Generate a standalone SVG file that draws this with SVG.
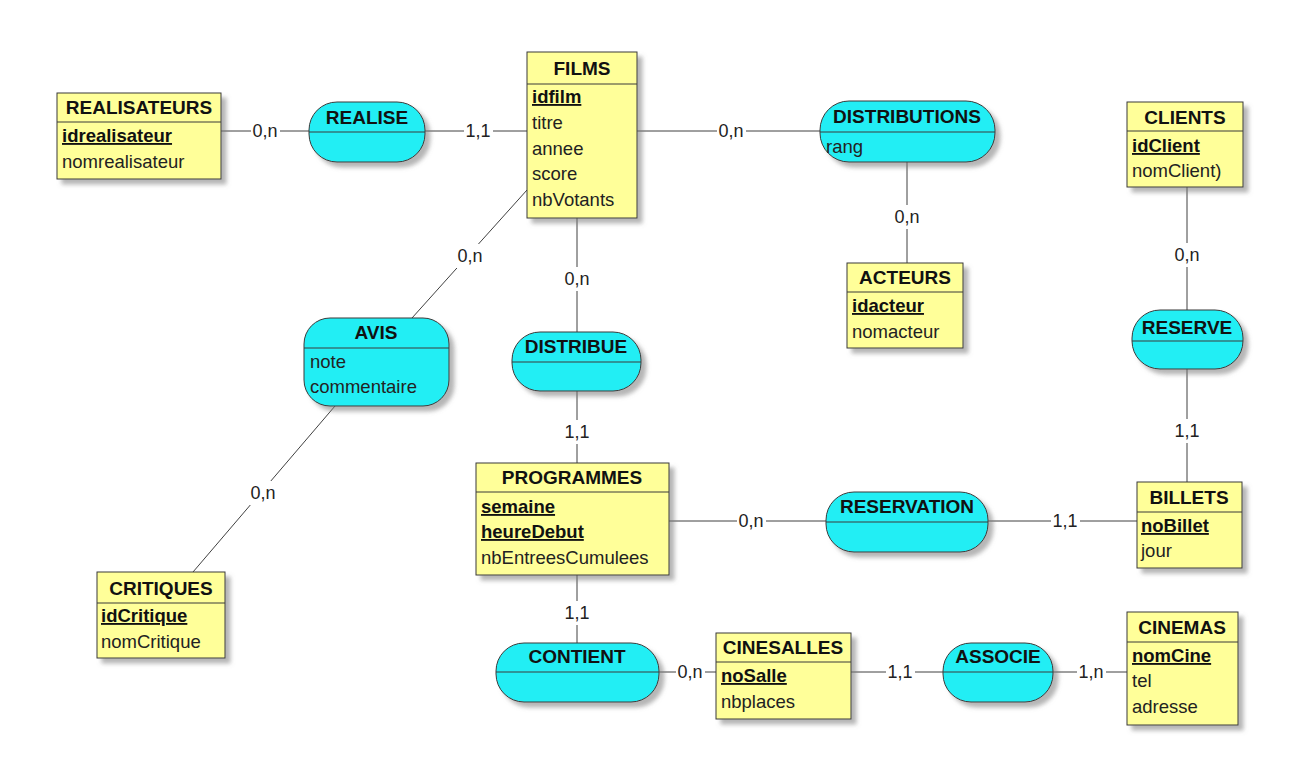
<svg xmlns="http://www.w3.org/2000/svg" width="1304" height="778" viewBox="0 0 1304 778">
<defs>
<filter id="sh" x="-10%" y="-10%" width="130%" height="130%">
<feDropShadow dx="5" dy="5" stdDeviation="2" flood-color="#7a7a7a" flood-opacity="0.55"/>
</filter>
<style>
.ent{fill:#FFFF99;stroke:#3a3a3a;stroke-width:1;filter:url(#sh)}
.asc{fill:#22EEF4;stroke:#3a3a3a;stroke-width:1;filter:url(#sh)}
.div{stroke:#3a3a3a;stroke-width:1}
.t{font-family:"Liberation Sans",Arial,sans-serif;font-size:19px;font-weight:bold;fill:#111;text-anchor:middle}
.a{font-family:"Liberation Sans",Arial,sans-serif;font-size:18.5px;fill:#222}
.k{font-weight:bold;text-decoration:underline;fill:#111}
.ln{stroke:#404040;stroke-width:1;fill:none}
.lb{fill:#fff}
.c{font-family:"Liberation Sans",Arial,sans-serif;font-size:18px;fill:#222;text-anchor:middle}
</style>
</defs>
<rect width="1304" height="778" fill="#fff"/>

<g id="connectors">
<line class="ln" x1="221" y1="131" x2="309" y2="131"/>
<line class="ln" x1="425" y1="131" x2="527" y2="131"/>
<line class="ln" x1="637" y1="131" x2="820" y2="131"/>
<line class="ln" x1="907" y1="162" x2="907" y2="263"/>
<line class="ln" x1="1187" y1="187" x2="1187" y2="310"/>
<line class="ln" x1="1187" y1="369" x2="1187" y2="482"/>
<line class="ln" x1="577" y1="218" x2="577" y2="332"/>
<line class="ln" x1="577" y1="391" x2="577" y2="463"/>
<line class="ln" x1="669" y1="521" x2="826" y2="521"/>
<line class="ln" x1="988" y1="521" x2="1137" y2="521"/>
<line class="ln" x1="577" y1="575" x2="577" y2="643"/>
<line class="ln" x1="659" y1="672" x2="716" y2="672"/>
<line class="ln" x1="851" y1="672" x2="943" y2="672"/>
<line class="ln" x1="1053" y1="672" x2="1127" y2="672"/>
<line class="ln" x1="527" y1="190" x2="412" y2="318"/>
<line class="ln" x1="335" y1="406" x2="193" y2="572"/>
<g>
<rect class="lb" x="251" y="121" width="29" height="20"/><text class="c" x="265" y="137">0,n</text>
<rect class="lb" x="464" y="121" width="29" height="20"/><text class="c" x="478" y="137">1,1</text>
<rect class="lb" x="717" y="121" width="29" height="20"/><text class="c" x="731" y="137">0,n</text>
<rect class="lb" x="893" y="205" width="29" height="24"/><text class="c" x="907" y="223">0,n</text>
<rect class="lb" x="1173" y="243" width="29" height="24"/><text class="c" x="1187" y="261">0,n</text>
<rect class="lb" x="1173" y="419" width="29" height="24"/><text class="c" x="1187" y="437">1,1</text>
<rect class="lb" x="563" y="267" width="29" height="24"/><text class="c" x="577" y="285">0,n</text>
<rect class="lb" x="563" y="420" width="29" height="24"/><text class="c" x="577" y="438">1,1</text>
<rect class="lb" x="737" y="511" width="29" height="20"/><text class="c" x="751" y="527">0,n</text>
<rect class="lb" x="1051" y="511" width="29" height="20"/><text class="c" x="1065" y="527">1,1</text>
<rect class="lb" x="563" y="601" width="29" height="24"/><text class="c" x="577" y="619">1,1</text>
<rect class="lb" x="676" y="662" width="29" height="20"/><text class="c" x="690" y="678">0,n</text>
<rect class="lb" x="886" y="662" width="29" height="20"/><text class="c" x="900" y="678">1,1</text>
<rect class="lb" x="1077" y="662" width="29" height="20"/><text class="c" x="1091" y="678">1,n</text>
<rect class="lb" x="456" y="244" width="29" height="24"/><text class="c" x="470" y="262">0,n</text>
<rect class="lb" x="249" y="481" width="29" height="24"/><text class="c" x="263" y="499">0,n</text>
</g>
</g>

<g id="REALISATEURS">
<rect class="ent" x="57" y="93" width="164" height="86"/>
<line class="div" x1="57" y1="122" x2="221" y2="122"/>
<text class="t" x="139" y="114">REALISATEURS</text>
<text class="a k" x="62" y="142">idrealisateur</text>
<text class="a" x="62" y="168">nomrealisateur</text>
</g>

<g id="FILMS">
<rect class="ent" x="527" y="52" width="110" height="166"/>
<line class="div" x1="527" y1="84" x2="637" y2="84"/>
<text class="t" x="582" y="75">FILMS</text>
<text class="a k" x="532" y="103">idfilm</text>
<text class="a" x="532" y="129">titre</text>
<text class="a" x="532" y="155">annee</text>
<text class="a" x="532" y="180">score</text>
<text class="a" x="532" y="206">nbVotants</text>
</g>

<g id="CLIENTS">
<rect class="ent" x="1127" y="102" width="116" height="85"/>
<line class="div" x1="1127" y1="131" x2="1243" y2="131"/>
<text class="t" x="1185" y="124">CLIENTS</text>
<text class="a k" x="1132" y="152">idClient</text>
<text class="a" x="1132" y="177">nomClient)</text>
</g>

<g id="ACTEURS">
<rect class="ent" x="847" y="263" width="116" height="85"/>
<line class="div" x1="847" y1="292" x2="963" y2="292"/>
<text class="t" x="905" y="284">ACTEURS</text>
<text class="a k" x="852" y="312">idacteur</text>
<text class="a" x="852" y="338">nomacteur</text>
</g>

<g id="PROGRAMMES">
<rect class="ent" x="476" y="463" width="193" height="112"/>
<line class="div" x1="476" y1="492" x2="669" y2="492"/>
<text class="t" x="572" y="484">PROGRAMMES</text>
<text class="a k" x="481" y="513">semaine</text>
<text class="a k" x="481" y="538">heureDebut</text>
<text class="a" x="481" y="564">nbEntreesCumulees</text>
</g>

<g id="BILLETS">
<rect class="ent" x="1137" y="482" width="105" height="86"/>
<line class="div" x1="1137" y1="512" x2="1242" y2="512"/>
<text class="t" x="1189" y="504">BILLETS</text>
<text class="a k" x="1141" y="532">noBillet</text>
<text class="a" x="1141" y="557">jour</text>
</g>

<g id="CRITIQUES">
<rect class="ent" x="97" y="572" width="128" height="86"/>
<line class="div" x1="97" y1="603" x2="225" y2="603"/>
<text class="t" x="161" y="595">CRITIQUES</text>
<text class="a k" x="101" y="622">idCritique</text>
<text class="a" x="101" y="648">nomCritique</text>
</g>

<g id="CINESALLES">
<rect class="ent" x="716" y="633" width="135" height="86"/>
<line class="div" x1="716" y1="662" x2="851" y2="662"/>
<text class="t" x="783" y="654">CINESALLES</text>
<text class="a k" x="721" y="682">noSalle</text>
<text class="a" x="721" y="708">nbplaces</text>
</g>

<g id="CINEMAS">
<rect class="ent" x="1127" y="612" width="111" height="113"/>
<line class="div" x1="1127" y1="642" x2="1238" y2="642"/>
<text class="t" x="1182" y="634">CINEMAS</text>
<text class="a k" x="1132" y="662">nomCine</text>
<text class="a" x="1132" y="687">tel</text>
<text class="a" x="1132" y="713">adresse</text>
</g>

<g id="REALISE">
<rect class="asc" x="309" y="102" width="116" height="60" rx="28" ry="28"/>
<line class="div" x1="309" y1="132" x2="425" y2="132"/>
<text class="t" x="367" y="124">REALISE</text>
</g>

<g id="DISTRIBUTIONS">
<rect class="asc" x="820" y="101" width="175" height="61" rx="29" ry="29"/>
<line class="div" x1="820" y1="132" x2="995" y2="132"/>
<text class="t" x="907" y="123">DISTRIBUTIONS</text>
<text class="a" x="826" y="153">rang</text>
</g>

<g id="AVIS">
<rect class="asc" x="304" y="318" width="145" height="88" rx="26" ry="26"/>
<line class="div" x1="304" y1="348" x2="449" y2="348"/>
<text class="t" x="376" y="339">AVIS</text>
<text class="a" x="310" y="368">note</text>
<text class="a" x="310" y="393">commentaire</text>
</g>

<g id="DISTRIBUE">
<rect class="asc" x="512" y="332" width="129" height="59" rx="28" ry="28"/>
<line class="div" x1="512" y1="362" x2="641" y2="362"/>
<text class="t" x="576" y="353">DISTRIBUE</text>
</g>

<g id="RESERVE">
<rect class="asc" x="1132" y="310" width="111" height="59" rx="28" ry="28"/>
<line class="div" x1="1132" y1="341" x2="1243" y2="341"/>
<text class="t" x="1187" y="334">RESERVE</text>
</g>

<g id="RESERVATION">
<rect class="asc" x="826" y="492" width="162" height="60" rx="28" ry="28"/>
<line class="div" x1="826" y1="522" x2="988" y2="522"/>
<text class="t" x="907" y="513">RESERVATION</text>
</g>

<g id="CONTIENT">
<rect class="asc" x="496" y="643" width="163" height="59" rx="28" ry="28"/>
<line class="div" x1="496" y1="672" x2="659" y2="672"/>
<text class="t" x="577" y="663">CONTIENT</text>
</g>

<g id="ASSOCIE">
<rect class="asc" x="943" y="643" width="110" height="59" rx="28" ry="28"/>
<line class="div" x1="943" y1="672" x2="1053" y2="672"/>
<text class="t" x="998" y="663">ASSOCIE</text>
</g>
</svg>
